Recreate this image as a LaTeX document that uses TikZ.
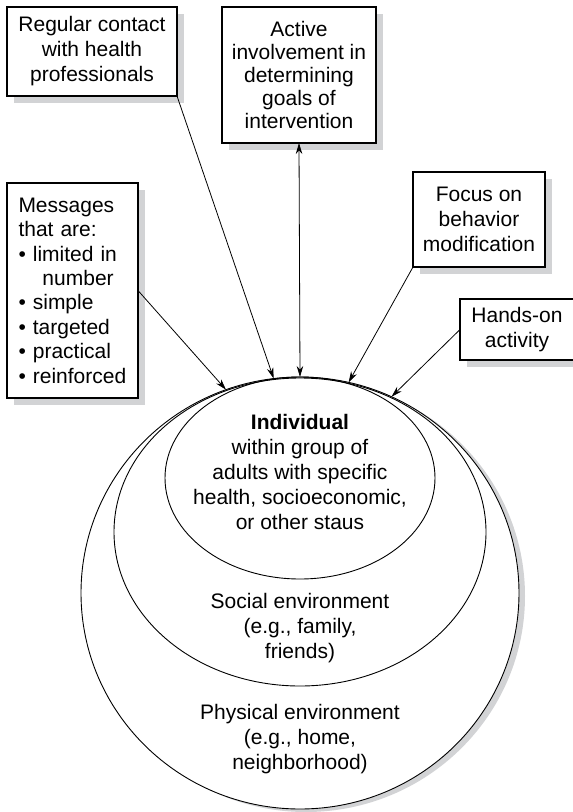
\documentclass[tikz,border=0pt]{standalone}
\usepackage{fontspec}
\setmainfont{Liberation Sans}
\usetikzlibrary{arrows.meta,shapes.geometric,shadows}
\definecolor{shade}{HTML}{D2D3D5}
\begin{document}
\begin{tikzpicture}[x=1pt,y=-1pt,
  txt/.style={font=\fontsize{21}{25}\selectfont},
  box/.style={txt, draw, line width=1.1pt, fill=white, align=center,
    inner sep=0pt, outer sep=0pt,
    general shadow={fill=shade, shadow xshift=7pt, shadow yshift=-7pt}},
  ring/.style={ellipse, draw, line width=0.9pt, inner sep=0pt, outer sep=0pt},
  lbl/.style={txt, align=center, inner sep=0pt},
  link/.style={line width=0.8pt, -{Stealth[length=11pt,width=6.5pt]}},
  twoway/.style={line width=0.8pt, {Stealth[length=11pt,width=6.5pt]}-{Stealth[length=11pt,width=6.5pt]}}]
\useasboundingbox (0,0) rectangle (573,812);

% nested environments
\node[ring, fill=white, minimum width=438pt, minimum height=432pt,
  general shadow={fill=shade, shadow xshift=6pt, shadow yshift=-3pt}] (outer) at (300,593) {};
\node[ring, minimum width=372pt, minimum height=308pt] (middle) at (300,532) {};
\node[ring, minimum width=270pt, minimum height=202pt] (inner) at (300,478) {};

\node[lbl] (indiv) at (300,472) {\textbf{Individual}\\within group of\\adults with specific\\health, socioeconomic,\\or other staus};
\node[lbl] (social) at (300,628) {Social environment\\(e.g., family,\\friends)};
\node[lbl] (phys) at (300,739) {Physical environment\\(e.g., home,\\neighborhood)};

% influencing factors
\node[box, minimum width=170pt, minimum height=89pt] (contact) at (92,51.5)
  {Regular contact\\with health\\professionals};
\node[box, font=\fontsize{21}{23}\selectfont, minimum width=154pt, minimum height=136pt] (goals) at (299,75)
  {Active\\involvement in\\determining\\goals of\\intervention};
\node[box, minimum width=132pt, minimum height=95pt] (focus) at (479,219.5)
  {Focus on\\behavior\\modification};
\node[box, minimum width=114pt, minimum height=61pt] (hands) at (517,329.5)
  {Hands-on\\activity};
\node[box, font=\fontsize{21}{24.4}\selectfont, align=left, text width=108pt, inner xsep=11.5pt, minimum height=215pt] (msgs) at (72.5,290.5)
  {Messages\\that are:\\\textbullet{} limited in\\\hspace*{24pt}number\\\textbullet{} simple\\\textbullet{} targeted\\\textbullet{} practical\\\mbox{\textbullet{} reinforced}};

% connectors
\draw[link] (msgs.east) -- (outer.110.5);
\draw[link] (contact.south east) -- (outer.97.6);
\draw[twoway] (goals.south) -- (outer.90);
\draw[link] (focus.south west) -- (outer.77.4);
\draw[link] (hands.west) -- (outer.65);
\end{tikzpicture}
\end{document}
